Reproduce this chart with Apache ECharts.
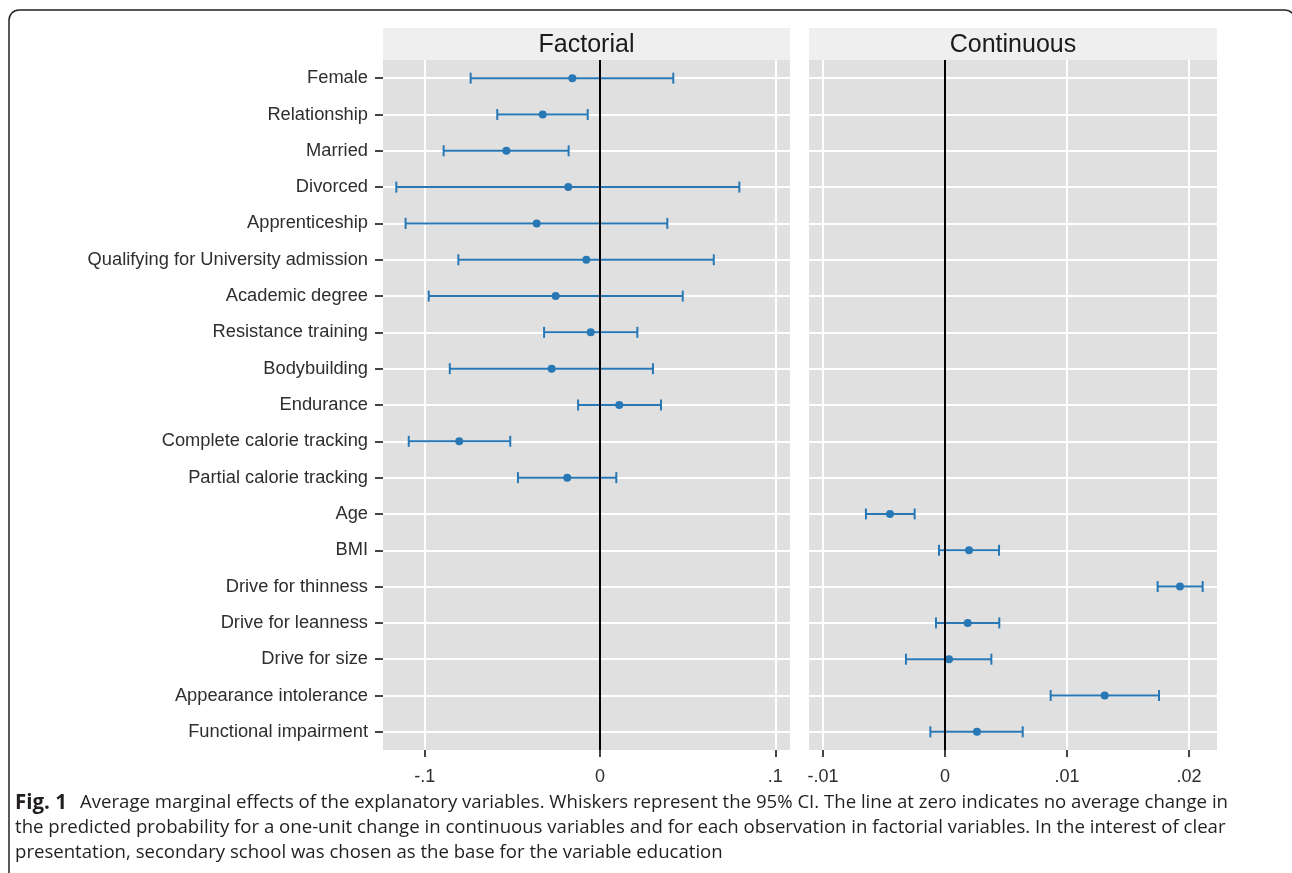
<!DOCTYPE html>
<html><head><meta charset="utf-8">
<script src="https://cdn.jsdelivr.net/npm/echarts@6/dist/echarts.min.js"></script>
<style>html,body{margin:0;padding:0;background:#fff}#c{width:1292px;height:873px}</style>
</head><body><div id="c"></div>
<script>
// ---- data ----
const categories = [
  'Female', 'Relationship', 'Married', 'Divorced', 'Apprenticeship',
  'Qualifying for University admission', 'Academic degree', 'Resistance training',
  'Bodybuilding', 'Endurance', 'Complete calorie tracking', 'Partial calorie tracking',
  'Age', 'BMI', 'Drive for thinness', 'Drive for leanness', 'Drive for size',
  'Appearance intolerance', 'Functional impairment'
];
// factorial variables (rows 0..11)
const factorialEst  = [-0.0158, -0.0327, -0.0534, -0.0181, -0.0361, -0.0078, -0.0253, -0.0053, -0.0276, 0.0110, -0.0803, -0.0187];
const factorialLow  = [-0.0738, -0.0586, -0.0892, -0.1162, -0.1109, -0.0808, -0.0977, -0.0319, -0.0857, -0.0125, -0.1091, -0.0468];
const factorialHigh = [ 0.0418, -0.0070, -0.0179,  0.0795,  0.0384,  0.0649,  0.0472,  0.0213,  0.0302,  0.0348, -0.0512,  0.0093];
// continuous variables (rows 12..18)
const continuousEst  = [-0.00451, 0.00197, 0.01926, 0.00186, 0.00033, 0.01309, 0.00262];
const continuousLow  = [-0.00648, -0.00049, 0.01743, -0.00074, -0.00320, 0.00866, -0.00120];
const continuousHigh = [-0.00249, 0.00443, 0.02112, 0.00445, 0.00380, 0.01754, 0.00637];
// axis ticks
const factorialTicks = [-0.1, 0, 0.1];
const factorialTickLabels = ['-.1', '0', '.1'];
const continuousTicks = [-0.01, 0, 0.01, 0.02];
const continuousTickLabels = ['-.01', '0', '.01', '.02'];
const panelTitles = ['Factorial', 'Continuous'];
const captionBold = 'Fig. 1';
const captionLines = [
  'Average marginal effects of the explanatory variables. Whiskers represent the 95% CI. The line at zero indicates no average change in',
  'the predicted probability for a one-unit change in continuous variables and for each observation in factorial variables. In the interest of clear',
  'presentation, secondary school was chosen as the base for the variable education'
];

// ---- layout ----
const BLUE = '#2878b6';
const P1 = {l: 383, r: 790};
const P2 = {l: 809, r: 1217};
const TOP = 60, BOT = 750, STRIP_TOP = 28;
const nF = factorialEst.length;
const rowIdx = categories.map((_, i) => i);

const facBars = factorialEst.map((v, i) => [factorialLow[i], factorialHigh[i], i]);
const facPts = factorialEst.map((v, i) => [v, i]);
const conBars = continuousEst.map((v, i) => [continuousLow[i], continuousHigh[i], i + nF]);
const conPts = continuousEst.map((v, i) => [v, i + nF]);

function errRender(params, api) {
  const y = api.value(2);
  const a = api.coord([api.value(0), y]);
  const b = api.coord([api.value(1), y]);
  const h = 5.5;
  const style = {stroke: BLUE, lineWidth: 2};
  return {type: 'group', children: [
    {type: 'line', shape: {x1: a[0], y1: a[1], x2: b[0], y2: b[1]}, style},
    {type: 'line', shape: {x1: a[0], y1: a[1] - h, x2: a[0], y2: a[1] + h}, style},
    {type: 'line', shape: {x1: b[0], y1: b[1] - h, x2: b[0], y2: b[1] + h}, style}
  ]};
}

const FONT = '"Liberation Sans", Arial, sans-serif';
const CAPFONT = '"Open Sans", sans-serif';
const TXT = '#2e2e2e';

function xAxisCfg(idx, min, max, ticks, labels) {
  return {
    type: 'value', gridIndex: idx, min, max, position: 'bottom',
    axisLine: {show: true, onZero: false, lineStyle: {color: 'rgba(0,0,0,0)', width: 0}},
    axisTick: {show: true, inside: false, length: 7, customValues: ticks, lineStyle: {color: '#444', width: 2}},
    axisLabel: {
      customValues: ticks, margin: 18, fontSize: 18, fontFamily: FONT, color: TXT,
      formatter: v => { const k = ticks.findIndex(t => Math.abs(t - v) < 1e-9); return k >= 0 ? labels[k] : ''; }
    },
    splitLine: {show: true, lineStyle: {color: '#ffffff', width: 2}}
  };
}
function yAxisCfg(idx, showLabels) {
  return {
    type: 'value', gridIndex: idx, inverse: true, min: -0.5, max: categories.length - 0.5, position: 'left',
    axisLine: {show: false, onZero: false},
    axisTick: {show: showLabels, length: 8, customValues: rowIdx, lineStyle: {color: '#444', width: 2}},
    axisLabel: {
      show: showLabels, customValues: rowIdx, margin: 15, fontSize: 18.3, fontFamily: FONT, color: TXT,
      formatter: v => categories[Math.round(v)] || ''
    },
    splitLine: {show: true, lineStyle: {color: '#ffffff', width: 2}}
  };
}

const zeroLine = {
  silent: true, symbol: 'none', label: {show: false},
  lineStyle: {color: '#000', width: 2, type: 'solid'},
  data: [{xAxis: 0}]
};

const option = {
  animation: false,
  backgroundColor: '#ffffff',
  grid: [
    {left: P1.l, top: TOP, width: P1.r - P1.l, height: BOT - TOP, show: true, backgroundColor: '#e0e0e0', borderWidth: 0},
    {left: P2.l, top: TOP, width: P2.r - P2.l, height: BOT - TOP, show: true, backgroundColor: '#e0e0e0', borderWidth: 0}
  ],
  xAxis: [
    xAxisCfg(0, (P1.l - 600) / 1753, (P1.r - 600) / 1753, factorialTicks, factorialTickLabels),
    xAxisCfg(1, (P2.l - 945) / 12200, (P2.r - 945) / 12200, continuousTicks, continuousTickLabels)
  ],
  yAxis: [yAxisCfg(0, true), yAxisCfg(1, false)],
  series: [
    {type: 'custom', xAxisIndex: 0, yAxisIndex: 0, renderItem: errRender, encode: {x: [0, 1], y: 2}, data: facBars, z: 2, silent: true},
    {type: 'custom', xAxisIndex: 1, yAxisIndex: 1, renderItem: errRender, encode: {x: [0, 1], y: 2}, data: conBars, z: 2, silent: true},
    {type: 'scatter', xAxisIndex: 0, yAxisIndex: 0, data: [], markLine: zeroLine, z: 3},
    {type: 'scatter', xAxisIndex: 1, yAxisIndex: 1, data: [], markLine: zeroLine, z: 3},
    {type: 'scatter', xAxisIndex: 0, yAxisIndex: 0, data: facPts, symbolSize: 8, itemStyle: {color: BLUE, opacity: 1}, z: 4, silent: true},
    {type: 'scatter', xAxisIndex: 1, yAxisIndex: 1, data: conPts, symbolSize: 8, itemStyle: {color: BLUE, opacity: 1}, z: 4, silent: true}
  ],
  graphic: [
    {type: 'rect', z: -1, shape: {x: 9, y: 10, width: 1286, height: 872, r: 10}, style: {fill: 'none', stroke: '#222', lineWidth: 1.5}},
    {type: 'rect', shape: {x: P1.l, y: STRIP_TOP, width: P1.r - P1.l, height: TOP - STRIP_TOP}, style: {fill: '#efefef'}},
    {type: 'rect', shape: {x: P2.l, y: STRIP_TOP, width: P2.r - P2.l, height: TOP - STRIP_TOP}, style: {fill: '#efefef'}},
    {type: 'text', x: (P1.l + P1.r) / 2, y: (STRIP_TOP + TOP) / 2 + 1, style: {text: panelTitles[0], font: '25px ' + FONT, fill: '#1a1a1a', align: 'center', verticalAlign: 'middle'}},
    {type: 'text', x: (P2.l + P2.r) / 2, y: (STRIP_TOP + TOP) / 2 + 1, style: {text: panelTitles[1], font: '25px ' + FONT, fill: '#1a1a1a', align: 'center', verticalAlign: 'middle'}},
    {type: 'text', x: 15, y: 803, style: {text: captionBold, font: 'bold 20.5px ' + CAPFONT, fill: '#231f20', verticalAlign: 'middle'}},
    {type: 'text', x: 80, y: 803, style: {text: captionLines[0], font: '18.6px ' + CAPFONT, fill: '#231f20', verticalAlign: 'middle'}},
    {type: 'text', x: 15, y: 828, style: {text: captionLines[1], font: '18.6px ' + CAPFONT, fill: '#231f20', verticalAlign: 'middle'}},
    {type: 'text', x: 15, y: 853, style: {text: captionLines[2], font: '18.6px ' + CAPFONT, fill: '#231f20', verticalAlign: 'middle'}}
  ]
};

const chart = echarts.init(document.getElementById('c'), null, {renderer: 'canvas'});
chart.setOption(option);
</script>
</body></html>
